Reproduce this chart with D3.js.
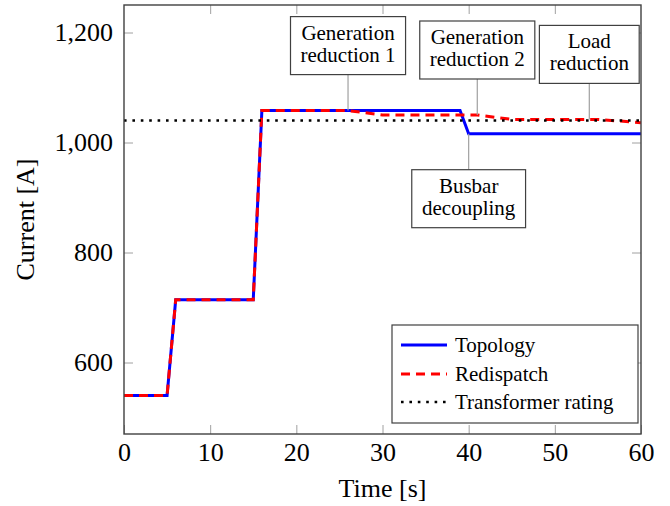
<!DOCTYPE html>
<html>
<head>
<meta charset="utf-8">
<script src="https://cdn.jsdelivr.net/npm/d3@7"></script>
<style>
  body { margin: 0; background: #fff; }
  svg { display: block; font-family: "Liberation Serif", "Times New Roman", serif; }
</style>
</head>
<body>
<svg id="chart" width="670" height="506"></svg>
<script>
// ---- data ----
const topologyTime    = [0, 5, 6, 15, 16, 39, 40, 60];
const topologyCurrent = [540, 540, 714, 714, 1058, 1058, 1016, 1016];
const redispatchTime    = [0, 5, 6, 15, 16, 26, 30, 41, 45, 55, 60];
const redispatchCurrent = [540, 540, 714, 714, 1058, 1058, 1050, 1050, 1042, 1042, 1036];
const ratingTime    = [0, 60];
const ratingCurrent = [1040, 1040];
const xTicks = [0, 10, 20, 30, 40, 50, 60];
const yTicks = [600, 800, 1000, 1200];
const seriesNames = ["Topology", "Redispatch", "Transformer rating"];
const annotationLines = [["Generation", "reduction\u00a01"], ["Generation", "reduction\u00a02"], ["Load", "reduction"], ["Busbar", "decoupling"]];
const annotationTime = [26, 41, 54, 40];
const annotationCurrent = [1058, 1050, 1042, 1016];
const annotationSide = ["above", "above", "above", "below"];
const xLabel = "Time [s]";
const yLabel = "Current [A]";

// ---- layout ----
const W = 670, H = 506;
const m = { left: 124, top: 5, right: 29, bottom: 72 };
const iw = W - m.left - m.right, ih = H - m.top - m.bottom;
const svg = d3.select("#chart");
const g = svg.append("g").attr("transform", `translate(${m.left},${m.top})`);

const x = d3.scaleLinear().domain([0, 60]).range([0, iw]);
const y = d3.scaleLinear().domain([470, 1250]).range([ih, 0]);

const tickColor = "#a0a0a0", frameColor = "#404040";
const tickLen = 9;
const fs = 26;

// inward ticks on all sides
const ax = (axis) => axis.tickSizeInner(tickLen).tickSizeOuter(0);
g.append("g").attr("transform", `translate(0,${ih})`).call(ax(d3.axisTop(x).tickValues(xTicks)).tickFormat(""))
  .call(s => { s.select(".domain").remove(); s.selectAll("line").attr("stroke", tickColor); });
g.append("g").call(ax(d3.axisBottom(x).tickValues(xTicks.slice(1, -1))).tickFormat(""))
  .call(s => { s.select(".domain").remove(); s.selectAll("line").attr("stroke", tickColor); });
g.append("g").call(ax(d3.axisRight(y).tickValues(yTicks)).tickFormat(""))
  .call(s => { s.select(".domain").remove(); s.selectAll("line").attr("stroke", tickColor); });
g.append("g").attr("transform", `translate(${iw},0)`).call(ax(d3.axisLeft(y).tickValues(yTicks)).tickFormat(""))
  .call(s => { s.select(".domain").remove(); s.selectAll("line").attr("stroke", tickColor); });

// tick labels via axes
const fmt = d3.format(",");
g.append("g").attr("transform", `translate(0,${ih})`)
  .call(d3.axisBottom(x).tickValues(xTicks).tickSize(0).tickPadding(9).tickFormat(d3.format("d")))
  .call(s => { s.select(".domain").remove(); s.selectAll("text").attr("font-size", fs).attr("fill", "#000").attr("font-family", "Liberation Serif"); });
g.append("g")
  .call(d3.axisLeft(y).tickValues(yTicks).tickSize(0).tickPadding(11).tickFormat(fmt))
  .call(s => { s.select(".domain").remove(); s.selectAll("text").attr("font-size", fs).attr("fill", "#000").attr("font-family", "Liberation Serif"); });

// axis labels
svg.append("text").attr("x", m.left + iw / 2).attr("y", 497).attr("text-anchor", "middle")
  .attr("font-size", fs).text(xLabel);
svg.append("text").attr("transform", `translate(34,${m.top + ih / 2}) rotate(-90)`).attr("text-anchor", "middle")
  .attr("font-size", fs).text(yLabel);

// clip
svg.append("defs").append("clipPath").attr("id", "clip").append("rect").attr("width", iw).attr("height", ih);
const plot = g.append("g").attr("clip-path", "url(#clip)");

const line = d3.line().x(d => x(d[0])).y(d => y(d[1]));
const zip = (a, b) => a.map((v, i) => [v, b[i]]);

const styles = [
  { stroke: "#0000ff", width: 3, dash: null },
  { stroke: "#ff0000", width: 3, dash: "9 6" },
  { stroke: "#000000", width: 2.6, dash: "2.6 5.8" }
];
const series = [zip(topologyTime, topologyCurrent), zip(redispatchTime, redispatchCurrent), zip(ratingTime, ratingCurrent)];

// annotation leader lines (behind)
const annG = g.append("g");
const pin = 36;
annotationLines.forEach((lines, i) => {
  const px = x(annotationTime[i]), py = y(annotationCurrent[i]);
  const ay = annotationSide[i] === "above" ? py - pin : py + pin;
  annG.append("line").attr("x1", px).attr("x2", px).attr("y1", py).attr("y2", ay)
    .attr("stroke", tickColor).attr("stroke-width", 1.2);
});

series.forEach((d, i) => {
  plot.append("path").datum(d).attr("d", line).attr("fill", "none")
    .attr("stroke", styles[i].stroke).attr("stroke-width", styles[i].width)
    .attr("stroke-dasharray", styles[i].dash).attr("stroke-linejoin", "miter");
});

// annotation boxes
const afs = 21, lh = 22, padX = 10, padY = 6;
annotationLines.forEach((lines, i) => {
  const px = x(annotationTime[i]), py = y(annotationCurrent[i]);
  const boxH = lines.length * lh + 2 * padY + 2;
  const top = annotationSide[i] === "above" ? py - pin - boxH : py + pin;
  const bg = g.append("g");
  const rect = bg.append("rect");
  const t = bg.append("text").attr("font-size", afs).attr("text-anchor", "middle");
  lines.forEach((ln, j) => {
    t.append("tspan").attr("x", px).attr("y", top + padY + 17 + j * lh).text(ln);
  });
  const bb = t.node().getBBox();
  const bw = bb.width + 2 * padX;
  rect.attr("x", px - bw / 2).attr("y", top).attr("width", bw).attr("height", boxH)
    .attr("fill", "#fff").attr("stroke", frameColor).attr("stroke-width", 1.2);
});

// frame
g.append("rect").attr("width", iw).attr("height", ih).attr("fill", "none")
  .attr("stroke", frameColor).attr("stroke-width", 1.4);

// legend
const lg = svg.append("g");
const lx = 392, ly = 325, lw = 246, lhgt = 98;
lg.append("rect").attr("x", lx).attr("y", ly).attr("width", lw).attr("height", lhgt)
  .attr("fill", "#fff").attr("stroke", frameColor).attr("stroke-width", 1.2);
const rowY = [345, 374, 402];
seriesNames.forEach((name, i) => {
  lg.append("line").attr("x1", lx + 9).attr("x2", lx + 55).attr("y1", rowY[i]).attr("y2", rowY[i])
    .attr("stroke", styles[i].stroke).attr("stroke-width", styles[i].width)
    .attr("stroke-dasharray", styles[i].dash);
  lg.append("text").attr("x", lx + 63).attr("y", rowY[i]).attr("dy", "0.33em")
    .attr("font-size", 21).text(name);
});
</script>
</body>
</html>
